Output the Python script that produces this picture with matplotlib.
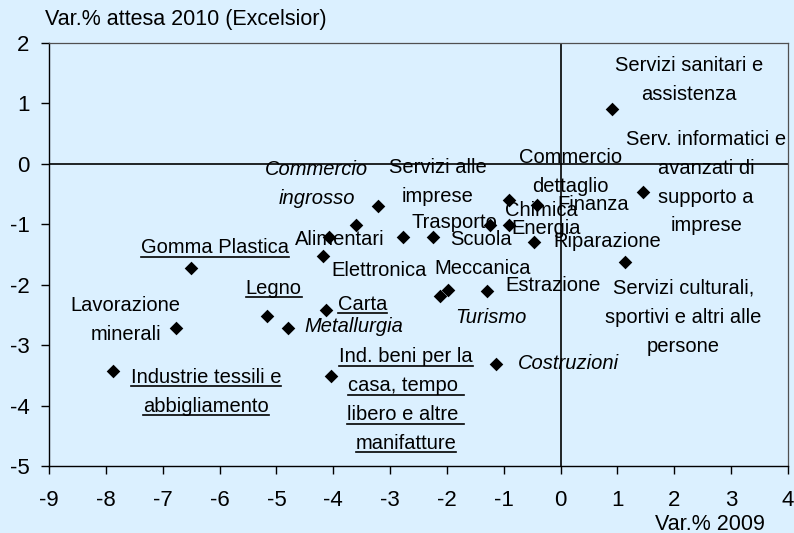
import matplotlib
matplotlib.use("Agg")
import matplotlib.pyplot as plt
from matplotlib.lines import Line2D

plt.rcParams['font.family'] = ['Liberation Sans', 'DejaVu Sans']
plt.rcParams['axes.unicode_minus'] = False

# ---------------- data ----------------
sectors = [
    "Servizi sanitari e\nassistenza",
    "Serv. informatici e\navanzati di\nsupporto a\nimprese",
    "Servizi culturali,\nsportivi e altri alle\npersone",
    "Commercio\ndettaglio",
    "Chimica",
    "Finanza",
    "Energia",
    "Riparazione",
    "Trasporto",
    "Scuola",
    "Servizi alle\nimprese",
    "Commercio\ningrosso",
    "Alimentari",
    "Elettronica",
    "Meccanica",
    "Estrazione",
    "Turismo",
    "Costruzioni",
    "Gomma Plastica",
    "Legno",
    "Carta",
    "Metallurgia",
    "Lavorazione\nminerali",
    "Industrie tessili e\nabbigliamento",
    "Ind. beni per la\ncasa, tempo \nlibero e altre \nmanifatture",
]
var_2009 = [0.90, 1.45, 1.14, -3.60, -0.90, -0.41, -0.90, -0.47, -1.25, -2.24,
            -2.78, -3.22, -4.07, -4.18, -1.98, -1.29, -2.12, -1.14,
            -6.50, -5.17, -4.13, -4.79, -6.76, -7.87, -4.04]
var_2010 = [0.90, -0.47, -1.62, -1.01, -0.60, -0.68, -1.01, -1.30, -1.01, -1.21,
            -1.21, -0.70, -1.21, -1.53, -2.09, -2.10, -2.19, -3.32,
            -1.73, -2.52, -2.42, -2.71, -2.71, -3.42, -3.51]

x_ticks = list(range(-9, 5))
y_ticks = list(range(-5, 3))
y_title = "Var.% attesa 2010 (Excelsior)"
x_title = "Var.% 2009"

# ---------------- layout / styles ----------------
label_pos = {  # label centre (data coords)
    sectors[0]: (2.26, 1.39),
    sectors[1]: (2.56, -0.31),
    sectors[2]: (2.16, -2.54),
    sectors[3]: (0.18, -0.14),
    sectors[4]: (-0.34, -0.78),
    sectors[5]: (0.57, -0.68),
    sectors[6]: (-0.25, -1.07),
    sectors[7]: (0.82, -1.29),
    sectors[8]: (-1.86, -0.97),
    sectors[9]: (-1.40, -1.26),
    sectors[10]: (-2.16, -0.30),
    sectors[11]: (-4.29, -0.34),
    sectors[12]: (-3.88, -1.25),
    sectors[13]: (-3.19, -1.76),
    sectors[14]: (-1.38, -1.73),
    sectors[15]: (-0.14, -2.02),
    sectors[16]: (-1.22, -2.55),
    sectors[17]: (0.14, -3.30),
    sectors[18]: (-6.08, -1.39),
    sectors[19]: (-5.05, -2.06),
    sectors[20]: (-3.49, -2.32),
    sectors[21]: (-3.64, -2.69),
    sectors[22]: (-7.65, -2.59),
    sectors[23]: (-6.24, -3.77),
    sectors[24]: (-2.72, -3.91),
}
italic = {sectors[11], sectors[16], sectors[17], sectors[21]}
underlined = {sectors[18], sectors[19], sectors[20], sectors[23], sectors[24]}

BG = '#DBF0FF'
LABEL_FS = 14.5
LINE_STEP = 20.8  # points between lines

W, H = 794, 533
fig = plt.figure(figsize=(W / 100, H / 100), dpi=100, facecolor=BG)
ax = fig.add_axes([49 / W, 1 - 466 / H, (788 - 49) / W, (466 - 43) / H])
ax.set_facecolor(BG)

ax.set_xlim(-9, 4)
ax.set_ylim(-5, 2)
ax.set_xticks(x_ticks)
ax.set_yticks(y_ticks)
ax.tick_params(axis='both', direction='out', length=6, width=1.0, colors='black',
               labelsize=16)
ax.tick_params(axis='x', pad=11.5)
ax.tick_params(axis='y', pad=8)

for s in ['left', 'bottom']:
    ax.spines[s].set_color('black')
    ax.spines[s].set_linewidth(1.0)
for s in ['top', 'right']:
    ax.spines[s].set_color('#505050')
    ax.spines[s].set_linewidth(0.9)

ax.axhline(0, color='black', lw=1.2, zorder=1)
ax.axvline(0, color='black', lw=1.2, zorder=1)

ax.scatter(var_2009, var_2010, marker='D', s=48, color='black', zorder=3,
           linewidths=0)

line_texts = []
for name in sectors:
    lx, ly = label_pos[name]
    lines = name.split('\n')
    n = len(lines)
    for i, ln in enumerate(lines):
        off = ((n - 1) / 2 - i) * LINE_STEP
        t = ax.annotate(ln, xy=(lx, ly), xytext=(0, off), textcoords='offset points',
                        ha='center', va='center', fontsize=LABEL_FS,
                        fontstyle='italic' if name in italic else 'normal',
                        zorder=4, annotation_clip=False)
        if name in underlined:
            line_texts.append(t)

fig.text(45 / W, 1 - 20 / H, y_title, ha='left', va='center', fontsize=15.5)
fig.text(710 / W, 1 - 524 / H, x_title, ha='center', va='center', fontsize=15.5)

# underlines
fig.canvas.draw()
renderer = fig.canvas.get_renderer()
inv = fig.transFigure.inverted()
for t in line_texts:
    bb = t.get_window_extent(renderer)
    (x0, y0), (x1, _) = inv.transform([(bb.x0, bb.y0 + 0.5), (bb.x1, bb.y0 + 0.5)])
    fig.add_artist(Line2D([x0, x1], [y0, y0], transform=fig.transFigure,
                          color='black', lw=1.2))

fig.savefig('out.png', dpi=100, facecolor=BG)
